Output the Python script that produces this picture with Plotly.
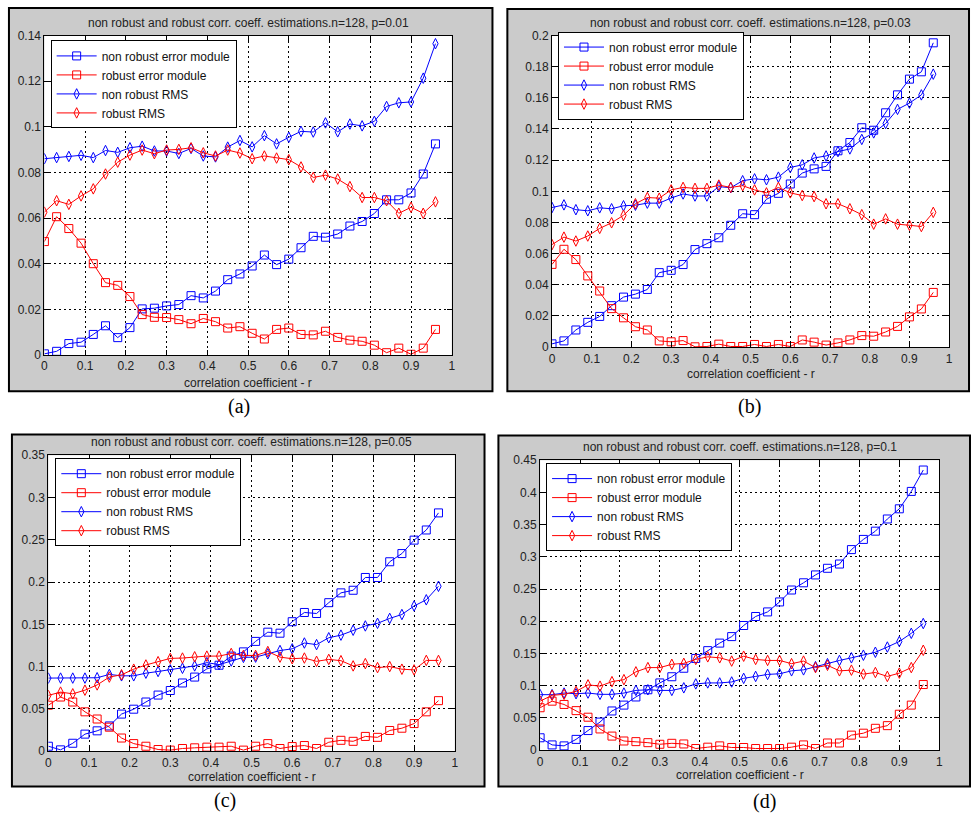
import plotly.graph_objects as go

W, H = 975, 823

# ---------------- data ----------------
r = [0.00, 0.03, 0.06, 0.09, 0.12, 0.15, 0.18, 0.21, 0.24, 0.27, 0.30,
     0.33, 0.36, 0.39, 0.42, 0.45, 0.48, 0.51, 0.54, 0.57, 0.60, 0.63,
     0.66, 0.69, 0.72, 0.75, 0.78, 0.81, 0.84, 0.87, 0.90, 0.93, 0.96]

series_names = ["non robust error module", "robust error module",
                "non robust RMS", "robust RMS"]

a_nr_err = [0.0005, 0.0016, 0.0050, 0.0056, 0.0090, 0.0128, 0.0076, 0.0120, 0.0202, 0.0205, 0.0215,
            0.0221, 0.0260, 0.0250, 0.0280, 0.0330, 0.0355, 0.0390, 0.0438, 0.0396, 0.0420, 0.0470,
            0.0520, 0.0516, 0.0530, 0.0565, 0.0585, 0.0620, 0.0680, 0.0680, 0.0710, 0.0793, 0.0925]
a_r_err = [0.0497, 0.0606, 0.0554, 0.0490, 0.0400, 0.0317, 0.0305, 0.0256, 0.0177, 0.0165, 0.0164,
           0.0155, 0.0137, 0.0160, 0.0146, 0.0118, 0.0124, 0.0095, 0.0070, 0.0112, 0.0118, 0.0090,
           0.0088, 0.0104, 0.0077, 0.0065, 0.0060, 0.0043, 0.0010, 0.0030, 0.0003, 0.0030, 0.0112]
a_nr_rms = [0.0860, 0.0865, 0.0870, 0.0875, 0.0865, 0.0896, 0.0888, 0.0908, 0.0915, 0.0894, 0.0894,
            0.0883, 0.0905, 0.0872, 0.0868, 0.0911, 0.0940, 0.0912, 0.0961, 0.0925, 0.0954, 0.0980,
            0.0977, 0.1017, 0.0978, 0.1012, 0.1004, 0.1024, 0.1089, 0.1105, 0.1109, 0.1213, 0.1364]
a_r_rms = [0.0626, 0.0676, 0.0660, 0.0697, 0.0728, 0.0793, 0.0845, 0.0876, 0.0898, 0.0882, 0.0898,
           0.0901, 0.0908, 0.0886, 0.0872, 0.0898, 0.0885, 0.0860, 0.0872, 0.0863, 0.0856, 0.0824,
           0.0778, 0.0788, 0.0771, 0.0738, 0.0690, 0.0690, 0.0676, 0.0621, 0.0647, 0.0621, 0.0671]

b_nr_err = [0.0021, 0.0040, 0.0110, 0.0159, 0.0197, 0.0266, 0.0321, 0.0340, 0.0370, 0.0478, 0.0493,
            0.0530, 0.0626, 0.0664, 0.0702, 0.0782, 0.0856, 0.0850, 0.0949, 0.0987, 0.1047, 0.1117,
            0.1144, 0.1160, 0.1260, 0.1313, 0.1408, 0.1392, 0.1504, 0.1619, 0.1720, 0.1767, 0.1953]
b_r_err = [0.0531, 0.0628, 0.0562, 0.0457, 0.0360, 0.0247, 0.0188, 0.0131, 0.0110, 0.0040, 0.0034,
           0.0042, 0.0002, 0.0004, 0.0019, 0.0004, 0.0004, 0.0017, 0.0004, 0.0017, 0.0004, 0.0046,
           0.0032, 0.0013, 0.0027, 0.0046, 0.0074, 0.0070, 0.0097, 0.0133, 0.0194, 0.0245, 0.0351]
b_nr_rms = [0.0896, 0.0913, 0.0882, 0.0875, 0.0894, 0.0888, 0.0907, 0.0911, 0.0924, 0.0924, 0.0957,
            0.0983, 0.0970, 0.0970, 0.1030, 0.1023, 0.1068, 0.1080, 0.1074, 0.1091, 0.1153, 0.1170,
            0.1214, 0.1227, 0.1255, 0.1272, 0.1333, 0.1375, 0.1435, 0.1526, 0.1566, 0.1619, 0.1752]
b_r_rms = [0.0658, 0.0706, 0.0681, 0.0713, 0.0762, 0.0798, 0.0846, 0.0920, 0.0960, 0.0956, 0.1009,
           0.1025, 0.1019, 0.1019, 0.1040, 0.1025, 0.1036, 0.1009, 0.0990, 0.1025, 0.0990, 0.0973,
           0.0966, 0.0920, 0.0920, 0.0888, 0.0850, 0.0789, 0.0823, 0.0789, 0.0782, 0.0774, 0.0865]

c_nr_err = [0.0058, 0.0015, 0.0093, 0.0201, 0.0240, 0.0298, 0.0438, 0.0496, 0.0581, 0.0663, 0.0717,
            0.0806, 0.0876, 0.0973, 0.1016, 0.1124, 0.1174, 0.1298, 0.1407, 0.1395, 0.1531, 0.1640,
            0.1628, 0.1756, 0.1872, 0.1903, 0.2054, 0.2054, 0.2240, 0.2337, 0.2496, 0.2616, 0.2818]
c_r_err = [0.0543, 0.0640, 0.0581, 0.0465, 0.0380, 0.0283, 0.0155, 0.0089, 0.0058, 0.0019, 0.0012,
           0.0031, 0.0039, 0.0047, 0.0047, 0.0058, 0.0012, 0.0058, 0.0089, 0.0031, 0.0054, 0.0066,
           0.0031, 0.0105, 0.0128, 0.0116, 0.0174, 0.0163, 0.0244, 0.0271, 0.0326, 0.0465, 0.0597]
c_nr_rms = [0.0864, 0.0864, 0.0864, 0.0864, 0.0868, 0.0907, 0.0891, 0.0891, 0.0922, 0.0942, 0.0961,
            0.0980, 0.1008, 0.1047, 0.1023, 0.1066, 0.1109, 0.1112, 0.1151, 0.1190, 0.1210, 0.1279,
            0.1260, 0.1341, 0.1372, 0.1430, 0.1481, 0.1512, 0.1570, 0.1616, 0.1717, 0.1790, 0.1950]
c_r_rms = [0.0659, 0.0698, 0.0678, 0.0721, 0.0783, 0.0876, 0.0903, 0.0969, 0.1019, 0.1058, 0.1097,
           0.1101, 0.1116, 0.1124, 0.1124, 0.1155, 0.1132, 0.1132, 0.1178, 0.1112, 0.1093, 0.1101,
           0.1062, 0.1085, 0.1070, 0.1008, 0.1035, 0.0988, 0.1000, 0.0969, 0.0961, 0.1073, 0.1073]

d_nr_err = [0.0192, 0.0081, 0.0066, 0.0167, 0.0304, 0.0435, 0.0608, 0.0699, 0.0825, 0.0937, 0.1043,
            0.1139, 0.1271, 0.1423, 0.1544, 0.1661, 0.1762, 0.1934, 0.2074, 0.2145, 0.2300, 0.2485,
            0.2597, 0.2719, 0.2822, 0.2888, 0.3112, 0.3270, 0.3398, 0.3587, 0.3745, 0.4015, 0.4347]
d_r_err = [0.0658, 0.0760, 0.0709, 0.0613, 0.0511, 0.0329, 0.0218, 0.0142, 0.0132, 0.0116, 0.0091,
           0.0106, 0.0096, 0.0025, 0.0046, 0.0066, 0.0041, 0.0041, 0.0025, 0.0025, 0.0025, 0.0046,
           0.0081, 0.0025, 0.0111, 0.0111, 0.0233, 0.0263, 0.0339, 0.0380, 0.0557, 0.0699, 0.1018]
d_nr_rms = [0.0861, 0.0861, 0.0886, 0.0876, 0.0886, 0.0866, 0.0866, 0.0886, 0.0927, 0.0937, 0.0927,
            0.0927, 0.0967, 0.1028, 0.1043, 0.1043, 0.1058, 0.1114, 0.1144, 0.1175, 0.1185, 0.1231,
            0.1246, 0.1296, 0.1342, 0.1392, 0.1433, 0.1473, 0.1519, 0.1600, 0.1686, 0.1813, 0.1965]
d_r_rms = [0.0760, 0.0851, 0.0866, 0.0912, 0.1013, 0.0993, 0.1063, 0.1094, 0.1215, 0.1281, 0.1281,
           0.1332, 0.1347, 0.1408, 0.1448, 0.1433, 0.1382, 0.1458, 0.1408, 0.1392, 0.1392, 0.1342,
           0.1382, 0.1281, 0.1316, 0.1231, 0.1241, 0.1180, 0.1205, 0.1144, 0.1195, 0.1281, 0.1550]

x_tickvals = [0, 0.1, 0.2, 0.3, 0.4, 0.5, 0.6, 0.7, 0.8, 0.9, 1]
x_ticktext = ["0", "0.1", "0.2", "0.3", "0.4", "0.5", "0.6", "0.7", "0.8", "0.9", "1"]

a_yticks = [0, 0.02, 0.04, 0.06, 0.08, 0.10, 0.12, 0.14]
a_ytext = ["0", "0.02", "0.04", "0.06", "0.08", "0.1", "0.12", "0.14"]
b_yticks = [0, 0.02, 0.04, 0.06, 0.08, 0.10, 0.12, 0.14, 0.16, 0.18, 0.20]
b_ytext = ["0", "0.02", "0.04", "0.06", "0.08", "0.1", "0.12", "0.14", "0.16", "0.18", "0.2"]
c_yticks = [0, 0.05, 0.10, 0.15, 0.20, 0.25, 0.30, 0.35]
c_ytext = ["0", "0.05", "0.1", "0.15", "0.2", "0.25", "0.3", "0.35"]
d_yticks = [0, 0.05, 0.10, 0.15, 0.20, 0.25, 0.30, 0.35, 0.40, 0.45]
d_ytext = ["0", "0.05", "0.1", "0.15", "0.2", "0.25", "0.3", "0.35", "0.4", "0.45"]

titles = ["non robust and robust corr. coeff. estimations.n=128, p=0.01",
          "non robust and robust corr. coeff. estimations.n=128, p=0.03",
          "non robust and robust corr. coeff. estimations.n=128, p=0.05",
          "non robust and robust corr. coeff. estimations.n=128, p=0.1"]
captions = ["(a)", "(b)", "(c)", "(d)"]
xlabel = "correlation coefficient - r"

# ---------------- layout geometry (pixels) ----------------
def px(x):
    return x / W

def py(y):
    return 1 - y / H

panels = [
    dict(data=[a_nr_err, a_r_err, a_nr_rms, a_r_rms], yt=a_yticks, ytt=a_ytext, ymax=0.14,
         box=(6, 1, 493, 391), plot=(41.7, 29, 452, 354), leg=(48, 34),
         title_y=16, xlab_y=382, cap=(238, 406)),
    dict(data=[b_nr_err, b_r_err, b_nr_rms, b_r_rms], yt=b_yticks, ytt=b_ytext, ymax=0.20,
         box=(508, 2, 973, 391), plot=(553, 29, 953, 346), leg=(559, 25),
         title_y=16, xlab_y=373, cap=(752, 406)),
    dict(data=[c_nr_err, c_r_err, c_nr_rms, c_r_rms], yt=c_yticks, ytt=c_ytext, ymax=0.35,
         box=(9, 435, 485, 793), plot=(45.7, 456, 455, 757), leg=(52.7, 459),
         title_y=443, xlab_y=783, cap=(224, 807)),
    dict(data=[d_nr_err, d_r_err, d_nr_rms, d_r_rms], yt=d_yticks, ytt=d_ytext, ymax=0.45,
         box=(499, 436, 974, 793), plot=(541, 461, 943, 756), leg=(547, 464),
         title_y=448, xlab_y=781, cap=(767, 808)),
]

colors = ["#0000ff", "#ff0000", "#0000ff", "#ff0000"]
symbols = ["square-open", "square-open", "diamond-tall-open", "diamond-tall-open"]
msizes = [8, 8, 7.5, 7.5]

SANS = "Liberation Sans, Arial, Helvetica, sans-serif"
SERIF = "Liberation Serif, Times New Roman, serif"

fig = go.Figure()
shapes = []
annotations = []
layout_axes = {}
legends = {}

for i, p in enumerate(panels):
    n = "" if i == 0 else str(i + 1)
    xa, ya = "x" + n, "y" + n
    legname = "legend" + n
    for k in range(4):
        fig.add_trace(go.Scatter(
            x=r, y=p["data"][k], name=series_names[k], xaxis=xa, yaxis=ya,
            mode="lines+markers", legend=legname,
            line=dict(color=colors[k], width=1),
            marker=dict(symbol=symbols[k], size=msizes[k], color=colors[k],
                        line=dict(color=colors[k], width=1)),
            hoverinfo="x+y+name"))

    bx0, by0, bx1, by1 = p["box"]
    x0, y0, x1, y1 = p["plot"]
    shapes.append(dict(type="rect", xref="paper", yref="paper", layer="below",
                       x0=px(bx0), x1=px(bx1), y0=py(by1), y1=py(by0),
                       fillcolor="#cbcbcb", line=dict(color="black", width=2)))
    shapes.append(dict(type="rect", xref="paper", yref="paper", layer="below",
                       x0=px(x0), x1=px(x1), y0=py(y1), y1=py(y0),
                       fillcolor="white", line=dict(width=0)))

    common = dict(showline=True, linecolor="black", linewidth=1, mirror="ticks",
                  ticks="inside", ticklen=5, tickcolor="black", tickwidth=1,
                  showgrid=True, gridcolor="black", gridwidth=1, griddash="2px,3px",
                  zeroline=False, tickfont=dict(family=SANS, size=12, color="#222222"),
                  fixedrange=True)
    layout_axes["xaxis" + n] = dict(common, domain=[px(x0), px(x1)], range=[0, 1],
                                    tickvals=x_tickvals, ticktext=x_ticktext,
                                    anchor=ya)
    layout_axes["yaxis" + n] = dict(common, domain=[py(y1), py(y0)], range=[0, p["ymax"]],
                                    tickvals=p["yt"], ticktext=p["ytt"],
                                    anchor=xa)
    legends[legname] = dict(x=px(p["leg"][0]), y=py(p["leg"][1]), xanchor="left", yanchor="top",
                            bgcolor="white", bordercolor="black", borderwidth=1,
                            font=dict(family=SANS, size=12, color="#111111"),
                            tracegroupgap=0, itemwidth=40)

    cx = (x0 + x1) / 2
    annotations.append(dict(text=titles[i], x=px(cx), y=py(p["title_y"]), xref="paper", yref="paper",
                            showarrow=False, xanchor="center", yanchor="middle",
                            font=dict(family=SANS, size=12, color="#222222")))
    annotations.append(dict(text=xlabel, x=px(cx), y=py(p["xlab_y"]), xref="paper", yref="paper",
                            showarrow=False, xanchor="center", yanchor="middle",
                            font=dict(family=SANS, size=12, color="#222222")))
    annotations.append(dict(text=captions[i], x=px(p["cap"][0]), y=py(p["cap"][1]),
                            xref="paper", yref="paper", showarrow=False,
                            xanchor="center", yanchor="middle",
                            font=dict(family=SERIF, size=20, color="black")))

fig.update_layout(
    width=W, height=H, margin=dict(l=0, r=0, t=0, b=0, pad=0),
    paper_bgcolor="white", plot_bgcolor="rgba(0,0,0,0)",
    showlegend=True, shapes=shapes, annotations=annotations,
    **layout_axes, **legends)

fig.write_html("out.html")
